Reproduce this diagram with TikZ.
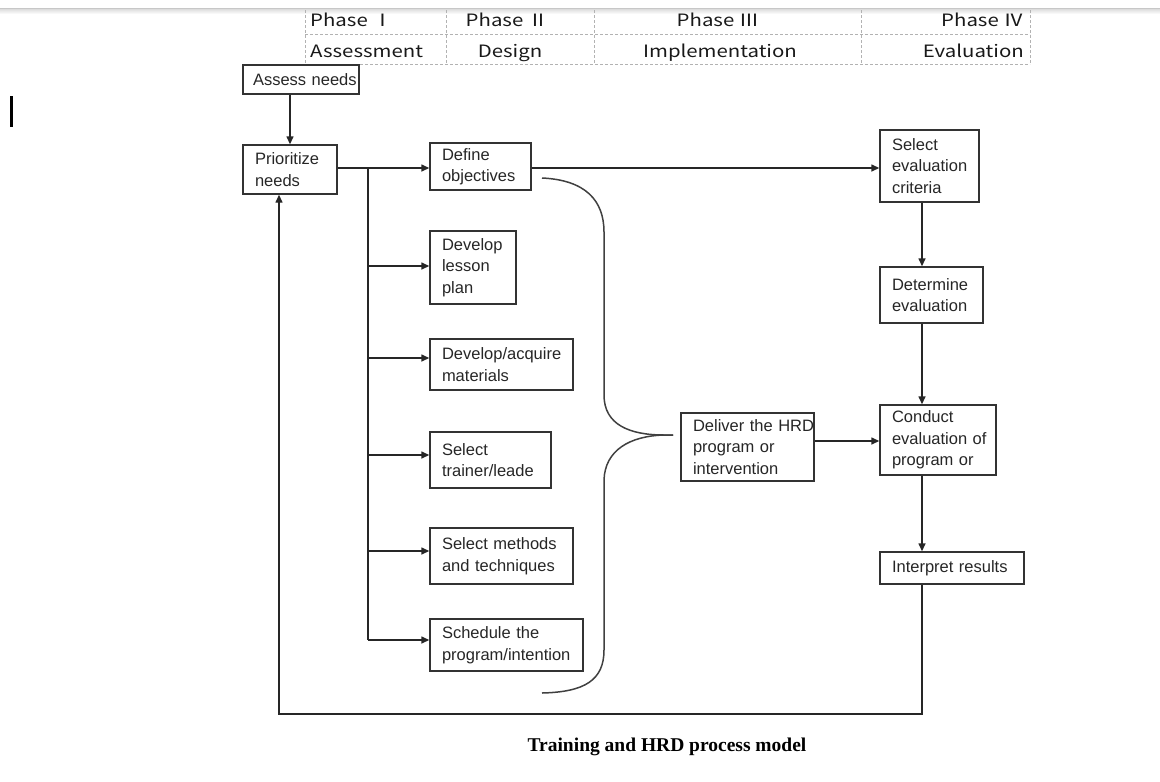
\documentclass[tikz,border=0pt]{standalone}
\usepackage{fontspec}
\setmainfont{Liberation Sans}
\newfontfamily\tabfont[FakeStretch=1.2]{Noto Sans CJK JP}
\newfontfamily\capfont{Liberation Serif}
\usetikzlibrary{arrows.meta,calc}
\begin{document}
\begin{tikzpicture}[x=1pt,y=-1pt,
  box/.style={draw=black!80, line width=1.4pt, rectangle, inner xsep=12pt, inner ysep=0pt,
    align=left, font=\fontsize{16.5}{21.5}\selectfont, text=black!85},
  arr/.style={draw=black!85, line width=1.4pt, -{Triangle[length=8pt,width=7pt]}},
  ln/.style={draw=black!85, line width=1.4pt},
  brace/.style={draw=black!75, line width=1.5pt},
  tab/.style={draw=black!30, line width=0.8pt, dash pattern=on 3pt off 2pt},
  tt/.style={font=\tabfont\fontsize{17}{17}\selectfont, text=black!90, inner sep=0pt}]
\useasboundingbox (0,0) rectangle (1160,782);
% top strip
\fill[black!22] (0,8) rectangle (1160,9.5);
\shade[top color=black!12, bottom color=white] (0,9.5) rectangle (1160,14);
% cursor bar
\draw[line width=3pt] (11.5,96) -- (11.5,127);
% table
\foreach \x in {305,446,594,861,1030} \draw[tab] (\x,10) -- (\x,64);
\draw[tab] (305,34) -- (1030,34);
\draw[tab] (305,64) -- (1030,64);
\node[tt, anchor=base west] (p1) at (310,26) {Phase Ⅰ};
\node[tt, anchor=base west] (a1) at (310,57) {Assessment};
\node[tt, anchor=base] (p2) at (507,26) {Phase Ⅱ};
\node[tt, anchor=base] (a2) at (510,57) {Design};
\node[tt, anchor=base] (p3) at (718,26) {Phase Ⅲ};
\node[tt, anchor=base] (a3) at (720,57) {Implementation};
\node[tt, anchor=base east] (p4) at (1024,26) {Phase Ⅳ};
\node[tt, anchor=base east] (a4) at (1024,57) {Evaluation};
% boxes
\node[box, inner xsep=10pt, minimum width=116pt, minimum height=29pt, text width=96pt] (assess) at (301,79.5) {\mbox{Assess needs}};
\node[box, minimum width=94pt, minimum height=49pt, text width=70pt] (prior) at (290,169.5) {Prioritize\\needs};
\node[box, minimum width=101pt, minimum height=47pt, text width=77pt] (define) at (480.5,166.5) {Define\\objectives};
\node[box, minimum width=86pt, minimum height=73pt, text width=62pt] (lesson) at (473,267.5) {Develop\\lesson\\plan};
\node[box, minimum width=143pt, minimum height=51pt, text width=119pt] (materials) at (501.5,364.5) {Develop/acquire\\materials};
\node[box, minimum width=121pt, minimum height=56pt, text width=97pt] (trainer) at (490.5,460) {Select\\trainer/leade};
\node[box, minimum width=143pt, minimum height=56pt, text width=119pt] (methods) at (501.5,556) {\mbox{Select methods}\\\mbox{and techniques}};
\node[box, minimum width=153pt, minimum height=52pt, text width=129pt] (schedule) at (506.5,645) {\mbox{Schedule the}\\\mbox{program/intention}};
\node[box, minimum width=133pt, minimum height=68pt, text width=109pt] (deliver) at (747.5,447) {\mbox{Deliver the HRD}\\\mbox{program or}\\intervention};
\node[box, minimum width=99pt, minimum height=72pt, text width=75pt] (criteria) at (929.5,166) {Select\\\mbox{evaluation}\\criteria};
\node[box, minimum width=103pt, minimum height=56pt, text width=79pt] (determine) at (931.5,295) {Determine\\\mbox{evaluation}};
\node[box, minimum width=116pt, minimum height=70pt, text width=92pt] (conduct) at (938,440) {Conduct\\\mbox{evaluation of}\\\mbox{program or}};
\node[box, minimum width=144pt, minimum height=32pt, text width=120pt] (interpret) at (952,568) {\mbox{Interpret results}};
% connectors
\coordinate (t0) at (368,168);
\coordinate (j1) at (368,266);
\coordinate (j2) at (368,358);
\coordinate (j3) at (368,455);
\coordinate (j4) at (368,551);
\coordinate (tend) at (368,640);
\coordinate (v) at (922,0);
\coordinate (d0) at (0,441);
\coordinate (fb) at (279,714);
\draw[arr] (assess.south -| prior.north) -- (prior.north);
\draw[arr] (prior.east |- t0) -- (define.west |- t0);
\draw[ln] (t0) -- (tend);
\draw[arr] (j1) -- (j1 -| lesson.west);
\draw[arr] (j2) -- (j2 -| materials.west);
\draw[arr] (j3) -- (j3 -| trainer.west);
\draw[arr] (j4) -- (j4 -| methods.west);
\draw[arr] (tend) -- (tend -| schedule.west);
\draw[arr] (define.east |- t0) -- (criteria.west |- t0);
\draw[arr] (criteria.south -| v) -- (determine.north -| v);
\draw[arr] (determine.south -| v) -- (conduct.north -| v);
\draw[arr] (conduct.south -| v) -- (interpret.north -| v);
\draw[arr] (deliver.east |- d0) -- (conduct.west |- d0);
\draw[arr] (interpret.south -| v) |- (fb) -- (fb |- prior.south);
% brace
\draw[brace] (542,178) .. controls (585,180) and (604,200) .. (604,232)
  -- (604,395) .. controls (604,425) and (630,435) .. (664,435) -- (673,435);
\draw[brace] (673,435) -- (664,435) .. controls (630,436) and (605,450) .. (604,480)
  -- (604,650) .. controls (604,680) and (585,692) .. (542,693);
% caption
\node[font=\capfont\bfseries\fontsize{19.5}{20}\selectfont, anchor=base, inner sep=0pt] (cap) at (667,751) {Training and HRD process model};
\end{tikzpicture}
\end{document}
